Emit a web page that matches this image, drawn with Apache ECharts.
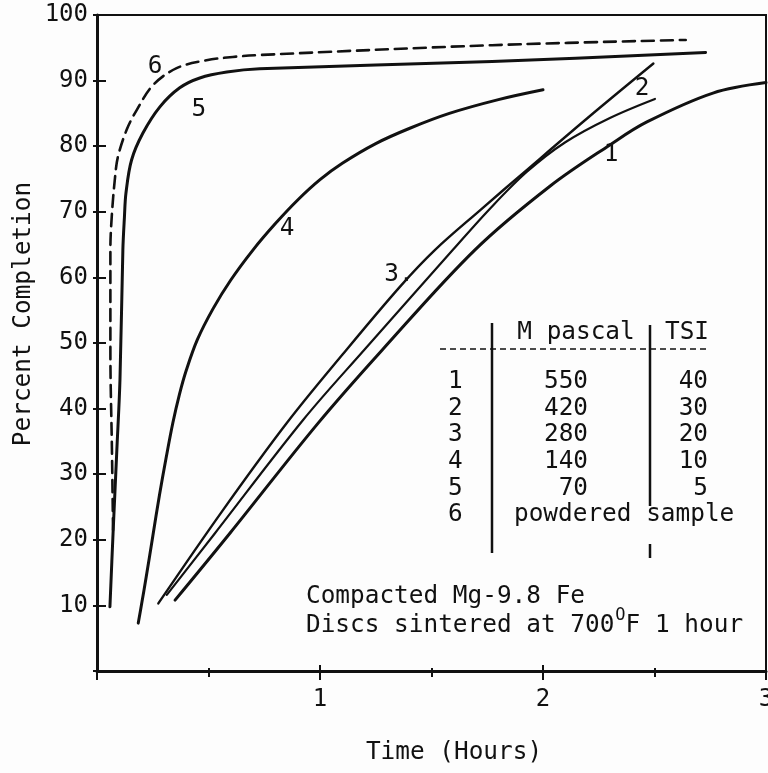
<!DOCTYPE html>
<html>
<head>
<meta charset="utf-8">
<script src="https://cdn.jsdelivr.net/npm/echarts@6/dist/echarts.min.js"></script>
<style>
html,body{margin:0;padding:0;background:#fdfdfd;}
#c{width:768px;height:773px;}
</style>
</head>
<body>
<div id="c"></div>
<script>
// ---- data (time in hours, percent completion) ----
const curve1 = [[0.350,10.8],[0.596,21.0],[0.987,37.6],[1.278,48.9],[1.695,64.2],[2.031,73.9],[2.300,80.2],[2.466,83.7],[2.762,88.1],[3.000,89.7]];
const curve2 = [[0.313,11.6],[0.529,21.0],[0.925,38.3],[1.197,48.9],[1.596,64.2],[1.76,70.4],[1.928,76.1],[2.1,80.6],[2.3,84.3],[2.502,87.2]];
const curve3 = [[0.275,10.3],[0.56,24.3],[0.851,37.8],[1.1,48.2],[1.359,58.6],[1.516,64.2],[1.72,70.3],[1.928,76.4],[2.2,84.3],[2.495,92.6]];
const curve4 = [[0.185,7.3],[0.20,10.2],[0.22,14.2],[0.25,20.5],[0.28,26.8],[0.31,32.5],[0.34,37.8],[0.37,42.2],[0.40,45.8],[0.45,50.5],[0.52,55.2],[0.60,59.6],[0.70,64.2],[0.80,68.2],[0.90,71.8],[1.00,74.9],[1.10,77.4],[1.25,80.4],[1.40,82.7],[1.58,85.0],[1.80,87.1],[2.00,88.6]];
const curve5 = [[0.058,9.8],[0.072,21.0],[0.089,33.7],[0.103,44.4],[0.116,64.2],[0.123,69.2],[0.130,72.9],[0.155,77.9],[0.206,82.0],[0.282,86.0],[0.371,88.9],[0.461,90.4],[0.582,91.3],[0.729,91.8],[1.772,92.9],[2.729,94.3]];
const curve6 = [[0.072,21.5],[0.067,33.7],[0.060,48.9],[0.060,64.2],[0.066,69.2],[0.081,75.3],[0.094,78.4],[0.133,82.5],[0.178,85.5],[0.251,89.3],[0.357,91.9],[0.491,93.1],[0.609,93.6],[0.729,93.9],[1.772,95.4],[2.640,96.2]];

// curve number labels: [time, percent, text]
const curveLabels = [[0.260,92.1,'6'],[0.457,85.5,'5'],[0.852,67.5,'4'],[1.354,60.4,'3.'],[2.444,88.7,'2'],[2.305,78.7,'1']];

// legend table
const tableIds   = ['1','2','3','4','5','6'];
const tableMpa   = ['550','420','280','140','70',''];
const tableTsi   = ['40','30','20','10','5',''];
const tableNote6 = 'powdered sample';

const xTickLabels = ['1','2','3'];
const yTickLabels = ['10','20','30','40','50','60','70','80','90','100'];

const xTitle = 'Time (Hours)';
const yTitle = 'Percent Completion';
const note1 = 'Compacted Mg-9.8 Fe';
const note2 = 'Discs sintered at 700{s|O}F 1 hour';

// ---- chart ----
const INK = '#111';
const FONT = '"DejaVu Sans Mono", "Liberation Mono", monospace';
const FS = 24;
const FSN = 24.4;

const chart = echarts.init(document.getElementById('c'), null, {renderer:'canvas'});

function lineSeries(data, width, dashed){
  return {
    type:'line', data:data, symbol:'none', smooth:0.35, xAxisIndex:0, yAxisIndex:0,
    lineStyle:{color:INK, width:width, type: dashed ? [12,7] : 'solid', cap:'round', join:'round'},
    silent:true, z:3
  };
}

const txt = (x,y,text,align,extra,fs) => Object.assign({
  type:'text', x:x, y:y, silent:true,
  style:{text:text, font: (fs||FSN)+'px '+FONT, fill:INK, align:align||'left', verticalAlign:'middle',
         textAlign:align||'left', textVerticalAlign:'middle'}
}, extra||{});

const rowY = [381.5,408.5,435,461.5,488.5,515];
const graphics = [];
// table lines
graphics.push({type:'line', silent:true, shape:{x1:492,y1:323,x2:492,y2:553}, style:{stroke:INK,lineWidth:2.5}});
graphics.push({type:'line', silent:true, shape:{x1:650,y1:325,x2:650,y2:506}, style:{stroke:INK,lineWidth:2.5}});
graphics.push({type:'line', silent:true, shape:{x1:650,y1:544,x2:650,y2:558}, style:{stroke:INK,lineWidth:2.5}});
graphics.push({type:'line', silent:true, shape:{x1:440,y1:349,x2:710,y2:349}, style:{stroke:INK,lineWidth:1.5,lineDash:[6,4]}});
// table header
graphics.push(txt(576,333,'M pascal','center'));
graphics.push(txt(709,333,'TSI','right'));
tableIds.forEach((id,i)=>{
  graphics.push(txt(448,rowY[i],id,'left'));
  if (tableMpa[i]) graphics.push(txt(588,rowY[i],tableMpa[i],'right'));
  if (tableTsi[i]) graphics.push(txt(708,rowY[i],tableTsi[i],'right'));
});
graphics.push(txt(514,rowY[5],tableNote6,'left'));
// notes
graphics.push(txt(306,597,note1,'left'));
graphics.push({
  type:'text', x:306, y:626, silent:true,
  style:{text:note2, font: FSN+'px '+FONT, fill:INK, align:'left', verticalAlign:'middle',
         textAlign:'left', textVerticalAlign:'middle', lineHeight:38,
         rich:{s:{fontSize:17, fontFamily:FONT, fill:INK, color:INK, verticalAlign:'top', lineHeight:14, padding:[0,0,0,1]}}}
});
// axis titles
graphics.push(txt(454,753,xTitle,'center'));
graphics.push(txt(24,314,yTitle,'center',{rotation:Math.PI/2}));

const baseX = {type:'value', min:0, max:3, interval:1, position:'bottom', splitLine:{show:false}};
const baseY = {type:'value', min:0, max:100, interval:10, position:'left', splitLine:{show:false}};

chart.setOption({
  animation:false,
  backgroundColor:'#fdfdfd',
  grid:{left:97, right:2, top:15, bottom:102, show:true, borderColor:INK, borderWidth:2,
        backgroundColor:'transparent', containLabel:false, outerBoundsMode:'none'},
  xAxis:[
    Object.assign({}, baseX, {
      axisLine:{show:true, onZero:false, lineStyle:{color:INK,width:3}},
      axisTick:{show:true, inside:false, length:9, lineStyle:{color:INK,width:2}},
      minorTick:{show:true, splitNumber:2, length:6, lineStyle:{color:INK,width:2}},
      axisLabel:{show:true, margin:17, color:INK, fontFamily:FONT, fontSize:FS,
        showMinLabel:true, showMaxLabel:true,
        formatter:(v)=>{ const s=String(Math.round(v)); return xTickLabels.indexOf(s)>=0 && Math.abs(v-Math.round(v))<1e-6 ? s : ''; }}
    }),
    Object.assign({}, baseX, {
      axisLine:{show:false, onZero:false},
      axisTick:{show:true, inside:true, length:6, lineStyle:{color:INK,width:2}},
      minorTick:{show:true, splitNumber:2, length:3, lineStyle:{color:INK,width:2}},
      axisLabel:{show:false}
    })
  ],
  yAxis:[
    Object.assign({}, baseY, {
      axisLine:{show:true, onZero:false, lineStyle:{color:INK,width:3}},
      axisTick:{show:true, inside:false, length:4, lineStyle:{color:INK,width:2}},
      axisLabel:{show:true, margin:9, color:INK, fontFamily:FONT, fontSize:FS,
        formatter:(v)=>{ const s=String(Math.round(v)); return yTickLabels.indexOf(s)>=0 ? s : ''; }}
    }),
    Object.assign({}, baseY, {
      axisLine:{show:false, onZero:false},
      axisTick:{show:true, inside:true, length:9, lineStyle:{color:INK,width:2}},
      axisLabel:{show:false}
    })
  ],
  series:[
    lineSeries(curve1, 3, false),
    lineSeries(curve2, 2.2, false),
    lineSeries(curve3, 2.4, false),
    lineSeries(curve4, 3, false),
    lineSeries(curve5, 3, false),
    lineSeries(curve6, 2.6, true),
    {
      type:'scatter', data:curveLabels, symbolSize:0, silent:true, z:4,
      itemStyle:{opacity:1, color:INK},
      label:{show:true, position:'inside', color:INK, opacity:1, fontFamily:FONT, fontSize:FSN,
             formatter:(p)=>p.data[2]}
    }
  ],
  graphic:graphics
});
</script>
</body>
</html>
